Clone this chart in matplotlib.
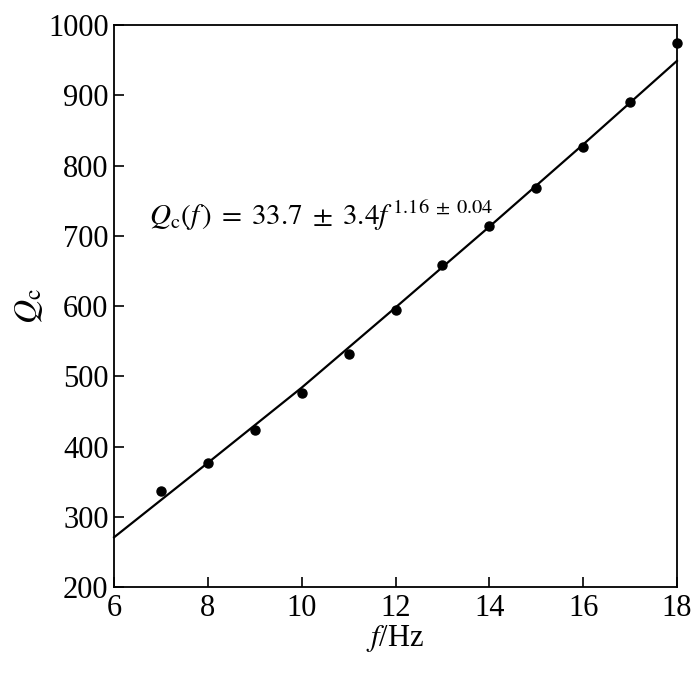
import matplotlib
matplotlib.use("Agg")
import matplotlib.pyplot as plt

# measured Q_c values
freq = [7, 8, 9, 10, 11, 12, 13, 14, 15, 16, 17, 18]
qc = [337, 376, 423, 476, 532, 595, 658, 714, 768, 826, 891, 974]

# fitted curve
fit_freq = [6, 8, 10, 12, 14, 16, 18]
fit_qc = [271, 377, 484, 598, 713, 830, 949]

x_ticks = [6, 8, 10, 12, 14, 16, 18]
y_ticks = [200, 300, 400, 500, 600, 700, 800, 900, 1000]

plt.rcParams['font.family'] = ['Liberation Serif', 'DejaVu Serif']
plt.rcParams['mathtext.fontset'] = 'stix'

fig = plt.figure(figsize=(7.0, 6.78), dpi=100)
ax = fig.add_axes([0.163, 0.134, 0.804, 0.829])

ax.plot(fit_freq, fit_qc, color='black', lw=1.6, clip_on=False)
ax.plot(freq, qc, 'o', color='black', ms=6.5, clip_on=False)

ax.set_xlim(6, 18)
ax.set_ylim(200, 1000)
ax.set_xticks(x_ticks)
ax.set_yticks(y_ticks)
ax.tick_params(direction='in', length=7, width=1.2, labelsize=22)
ax.tick_params(axis='x', pad=5)
ax.tick_params(axis='y', pad=4)
for s in ax.spines.values():
    s.set_linewidth(1.3)

ax.set_xlabel(r'$f$/Hz', fontsize=22, labelpad=0)
ax.set_ylabel(r'$Q_{\rm c}$', fontsize=24, labelpad=2)

ax.text(6.75, 728, r'$Q_{\rm c}(f\,)\;=\;33.7\;\pm\;3.4f^{\,1.16\;\pm\;0.04}$',
        fontsize=21, ha='left', va='center')

fig.savefig('out.png', dpi=100)
